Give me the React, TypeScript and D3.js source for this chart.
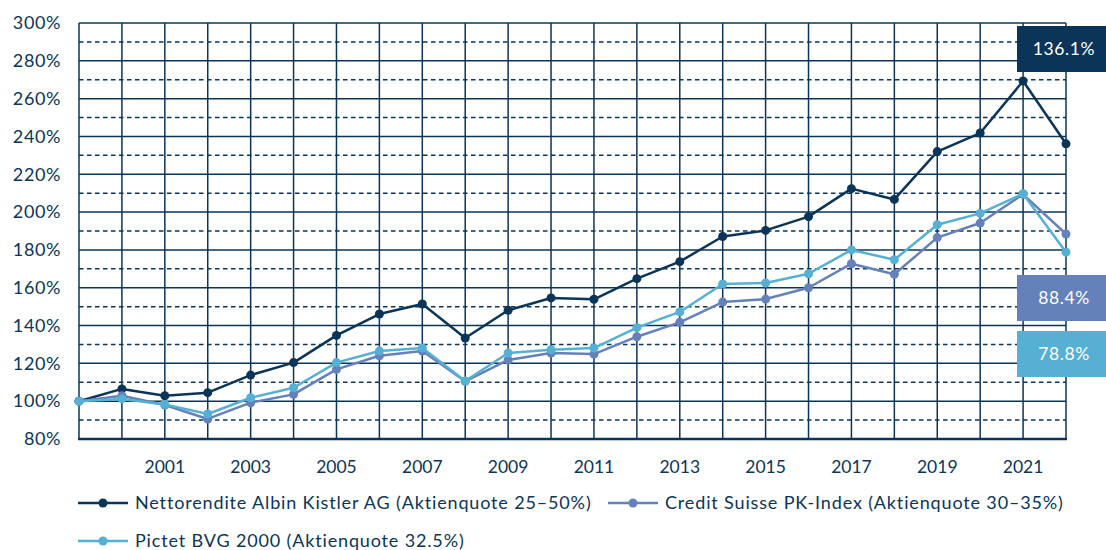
import React, { useEffect, useRef } from 'react';
import * as d3 from 'd3';

const years = d3.range(1999, 2023);
const kistler = [100, 106.5, 102.9, 104.5, 113.8, 120.4, 134.8, 146.1, 151.4, 133.4, 148.1, 154.6, 153.9, 164.8, 173.8, 187.1, 190.3, 197.6, 212.4, 206.7, 232.0, 241.8, 269.3, 236.1];
const creditSuisse = [100, 102.9, 98.0, 90.6, 99.2, 103.6, 116.8, 124.0, 126.5, 110.5, 121.8, 125.5, 124.9, 134.1, 141.7, 152.4, 154.0, 160.0, 172.7, 167.1, 186.5, 194.2, 209.4, 188.4];
const pictet = [100, 101.2, 98.3, 93.2, 101.8, 107.1, 120.4, 126.5, 128.1, 110.7, 125.5, 127.2, 128.1, 138.9, 147.2, 162.0, 162.5, 167.4, 180.0, 174.8, 193.3, 199.3, 209.7, 178.8];
const seriesNames = [
  'Nettorendite Albin Kistler AG (Aktienquote 25–50%)',
  'Credit Suisse PK-Index (Aktienquote 30–35%)',
  'Pictet BVG 2000 (Aktienquote 32.5%)',
];
const seriesColors = ['#0b3558', '#6581b9', '#55b0d3'];
const endLabels = ['136.1%', '88.4%', '78.8%'];
const yTicks = d3.range(80, 301, 20);
const xTickYears = [2001, 2003, 2005, 2007, 2009, 2011, 2013, 2015, 2017, 2019, 2021];

const W = 1106;
const H = 550;
const navy = '#0b3558';
const font = 'Lato, "Open Sans", sans-serif';

const App: React.FC = () => {
  const ref = useRef<SVGSVGElement>(null);

  useEffect(() => {
    if (!ref.current) return;
    const svg = d3.select(ref.current);
    svg.selectAll('*').remove();

    const x = d3.scaleLinear().domain([1999, 2022]).range([79, 1066]);
    const y = d3.scaleLinear().domain([80, 300]).range([439, 23]);

    const grid = svg.append('g');
    // dashed half lines
    grid.selectAll('.half')
      .data(d3.range(90, 300, 20))
      .enter()
      .append('line')
      .attr('x1', x(1999)).attr('x2', x(2022))
      .attr('y1', d => y(d)).attr('y2', d => y(d))
      .attr('stroke', navy)
      .attr('stroke-width', 1.5)
      .attr('stroke-dasharray', '4.5,3.5');
    // solid lines
    grid.selectAll('.full')
      .data(yTicks.filter(d => d > 80))
      .enter()
      .append('line')
      .attr('x1', x(1999)).attr('x2', x(2022))
      .attr('y1', d => y(d)).attr('y2', d => y(d))
      .attr('stroke', navy)
      .attr('stroke-width', 1.5);
    grid.selectAll('.vert')
      .data(years)
      .enter()
      .append('line')
      .attr('x1', d => x(d)).attr('x2', d => x(d))
      .attr('y1', y(300)).attr('y2', y(80))
      .attr('stroke', navy)
      .attr('stroke-width', 1.5);
    grid.append('line')
      .attr('x1', x(1999) - 1).attr('x2', x(2022) + 1)
      .attr('y1', y(80)).attr('y2', y(80))
      .attr('stroke', navy)
      .attr('stroke-width', 2.5);

    // y labels
    svg.append('g').selectAll('text')
      .data(yTicks)
      .enter()
      .append('text')
      .attr('x', 61)
      .attr('y', d => y(d))
      .attr('dy', '0.35em')
      .attr('text-anchor', 'end')
      .attr('fill', navy)
      .attr('font-family', font)
      .attr('font-size', 18)
      .attr('letter-spacing', 0.6)
      .text(d => `${d}%`);

    // x labels
    svg.append('g').selectAll('text')
      .data(xTickYears)
      .enter()
      .append('text')
      .attr('x', d => x(d))
      .attr('y', 467)
      .attr('dy', '0.35em')
      .attr('text-anchor', 'middle')
      .attr('fill', navy)
      .attr('font-family', font)
      .attr('font-size', 17.5)
      .text(d => d);

    const line = d3.line<number>()
      .x((d, i) => x(years[i]))
      .y(d => y(d));

    const all = [kistler, creditSuisse, pictet];
    all.forEach((vals, k) => {
      const g = svg.append('g');
      g.append('path')
        .datum(vals)
        .attr('d', line)
        .attr('fill', 'none')
        .attr('stroke', seriesColors[k])
        .attr('stroke-width', 2.5)
        .attr('stroke-linejoin', 'round');
      g.selectAll('circle')
        .data(vals)
        .enter()
        .append('circle')
        .attr('cx', (d, i) => x(years[i]))
        .attr('cy', d => y(d))
        .attr('r', 4.5)
        .attr('fill', seriesColors[k]);
    });

    // end labels
    const boxes = [
      { top: 26, h: 46 },
      { top: 275, h: 46 },
      { top: 331, h: 46 },
    ];
    boxes.forEach((b, k) => {
      svg.append('rect')
        .attr('x', 1017)
        .attr('y', b.top)
        .attr('width', 89)
        .attr('height', b.h)
        .attr('fill', seriesColors[k]);
      svg.append('text')
        .attr('x', 1064)
        .attr('y', b.top + b.h / 2)
        .attr('dy', '0.35em')
        .attr('text-anchor', 'middle')
        .attr('fill', '#fff')
        .attr('font-family', font)
        .attr('font-size', 17.5)
        .attr('letter-spacing', 0.6)
        .text(endLabels[k]);
    });

    // legend
    const legendPos = [
      { x: 78, y: 503 },
      { x: 608, y: 503 },
      { x: 78, y: 541 },
    ];
    legendPos.forEach((p, k) => {
      const g = svg.append('g').attr('transform', `translate(${p.x},${p.y})`);
      g.append('line')
        .attr('x1', 0).attr('x2', 50)
        .attr('y1', 0).attr('y2', 0)
        .attr('stroke', seriesColors[k])
        .attr('stroke-width', 2.5);
      g.append('circle')
        .attr('cx', 25).attr('cy', 0).attr('r', 4.5)
        .attr('fill', seriesColors[k]);
      g.append('text')
        .attr('x', 57)
        .attr('y', 0)
        .attr('dy', '0.35em')
        .attr('fill', navy)
        .attr('font-family', font)
        .attr('font-size', 18)
        .attr('letter-spacing', 0.85)
        .text(seriesNames[k]);
    });
  }, []);

  return (
    <svg ref={ref} width={W} height={H} style={{ display: 'block', position: 'absolute', left: 0, top: 0 }} />
  );
};

export default App;
